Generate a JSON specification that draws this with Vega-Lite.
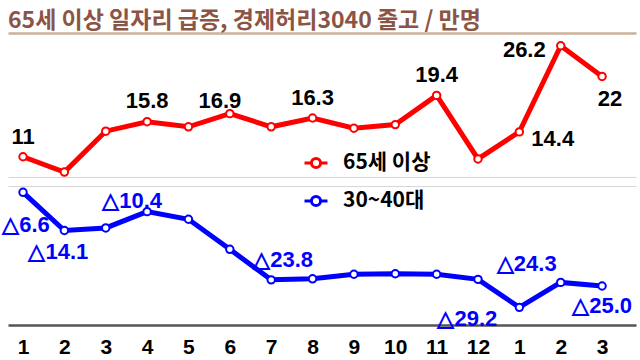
{
  "$schema": "https://vega.github.io/schema/vega-lite/v6.json",
  "width": 628,
  "height": 285,
  "autosize": {"type": "none"},
  "padding": {"left": 8, "top": 40, "right": 4, "bottom": 35},
  "title": {
    "text": "65세 이상 일자리 급증, 경제허리3040 줄고 / 만명",
    "anchor": "start",
    "frame": "group",
    "font": "Noto Sans CJK KR",
    "fontSize": 23,
    "fontWeight": "bold",
    "color": "#8B5444",
    "offset": 0
  },
  "datasets": {
    "d": [
      {"i": 1, "series": "65세 이상", "value": 11},
      {"i": 2, "series": "65세 이상", "value": 8.9},
      {"i": 3, "series": "65세 이상", "value": 14.5},
      {"i": 4, "series": "65세 이상", "value": 15.8},
      {"i": 5, "series": "65세 이상", "value": 15.1},
      {"i": 6, "series": "65세 이상", "value": 16.9},
      {"i": 7, "series": "65세 이상", "value": 15.1},
      {"i": 8, "series": "65세 이상", "value": 16.3},
      {"i": 9, "series": "65세 이상", "value": 14.9},
      {"i": 10, "series": "65세 이상", "value": 15.4},
      {"i": 11, "series": "65세 이상", "value": 19.4},
      {"i": 12, "series": "65세 이상", "value": 10.7},
      {"i": 13, "series": "65세 이상", "value": 14.4},
      {"i": 14, "series": "65세 이상", "value": 26.2},
      {"i": 15, "series": "65세 이상", "value": 22},
      {"i": 1, "series": "30~40대", "value": -6.6},
      {"i": 2, "series": "30~40대", "value": -14.1},
      {"i": 3, "series": "30~40대", "value": -13.6},
      {"i": 4, "series": "30~40대", "value": -10.4},
      {"i": 5, "series": "30~40대", "value": -11.9},
      {"i": 6, "series": "30~40대", "value": -17.8},
      {"i": 7, "series": "30~40대", "value": -23.8},
      {"i": 8, "series": "30~40대", "value": -23.6},
      {"i": 9, "series": "30~40대", "value": -22.7},
      {"i": 10, "series": "30~40대", "value": -22.6},
      {"i": 11, "series": "30~40대", "value": -22.7},
      {"i": 12, "series": "30~40대", "value": -23.7},
      {"i": 13, "series": "30~40대", "value": -29.2},
      {"i": 14, "series": "30~40대", "value": -24.3},
      {"i": 15, "series": "30~40대", "value": -25.0}
    ]
  },
  "data": {"name": "d"},
  "resolve": {"scale": {"y": "independent"}, "axis": {"x": "independent", "y": "independent"}},
  "layer": [
    {
      "transform": [{"filter": "datum.series == '65세 이상'"}],
      "encoding": {
        "x": {
          "field": "i", "type": "quantitative",
          "scale": {"domain": [0.637, 15.82], "nice": false, "zero": false},
          "axis": {
            "values": [1,2,3,4,5,6,7,8,9,10,11,12,13,14,15],
            "labelExpr": "datum.value > 12 ? datum.value - 12 : datum.value",
            "title": null, "grid": false, "ticks": false,
            "domainColor": "#555555", "domainWidth": 2.5,
            "labelFont": "Liberation Sans", "labelFontWeight": "bold", "labelFontSize": 21,
            "labelColor": "#000000", "labelPadding": 11
          }
        },
        "y": {
          "field": "value", "type": "quantitative",
          "scale": {"domain": [-12.05, 26.99], "nice": false, "zero": false},
          "axis": {"values": [8.18], "grid": true, "gridColor": "#d6d6d6", "gridWidth": 1, "labels": false, "ticks": false, "domain": false, "title": null}
        }
      },
      "layer": [
        {
          "mark": {"type": "line", "strokeWidth": 5, "point": {"filled": false, "fill": "white", "strokeWidth": 2, "size": 55}},
          "encoding": {
            "color": {
              "field": "series", "type": "nominal",
              "scale": {"domain": ["65세 이상", "30~40대"], "range": ["#ff0000", "#0000ff"]},
              "legend": {
                "orient": "none", "legendX": 295, "legendY": 110, "title": null,
                "labelFont": "Noto Sans CJK KR", "labelFontSize": 21, "labelFontWeight": "bold",
                "labelColor": "#000000", "rowPadding": 14, "labelOffset": 14,
                "symbolType": "M-1,0L-0.4,0M0.4,0L1,0M0.4,0A0.4,0.4,0,1,1,-0.4,0A0.4,0.4,0,1,1,0.4,0Z",
                "symbolSize": 529, "symbolStrokeWidth": 3
              }
            }
          }
        },
        {"transform": [{"filter": "datum.i == 1"}], "mark": {"type": "text", "dy": -13, "color": "#000"}, "encoding": {"text": {"field": "value", "type": "quantitative"}}},
        {"transform": [{"filter": "datum.i == 4"}], "mark": {"type": "text", "dy": -14, "color": "#000"}, "encoding": {"text": {"field": "value", "type": "quantitative"}}},
        {"transform": [{"filter": "datum.i == 6"}], "mark": {"type": "text", "dx": -10, "dy": -6, "color": "#000"}, "encoding": {"text": {"field": "value", "type": "quantitative"}}},
        {"transform": [{"filter": "datum.i == 8"}], "mark": {"type": "text", "dy": -13, "color": "#000"}, "encoding": {"text": {"field": "value", "type": "quantitative"}}},
        {"transform": [{"filter": "datum.i == 11"}], "mark": {"type": "text", "dy": -13, "color": "#000"}, "encoding": {"text": {"field": "value", "type": "quantitative"}}},
        {"transform": [{"filter": "datum.i == 13"}], "mark": {"type": "text", "align": "left", "dx": 12, "dy": 14, "color": "#000"}, "encoding": {"text": {"field": "value", "type": "quantitative"}}},
        {"transform": [{"filter": "datum.i == 14"}], "mark": {"type": "text", "align": "right", "dx": -15, "dy": 11, "color": "#000"}, "encoding": {"text": {"field": "value", "type": "quantitative"}}},
        {"transform": [{"filter": "datum.i == 15"}], "mark": {"type": "text", "dx": 8, "dy": 30, "color": "#000"}, "encoding": {"text": {"field": "value", "type": "quantitative"}}}
      ]
    },
    {
      "transform": [
        {"filter": "datum.series == '30~40대'"},
        {"calculate": "'△' + format(-datum.value, '.1f')", "as": "lab"}
      ],
      "encoding": {
        "x": {
          "field": "i", "type": "quantitative",
          "scale": {"domain": [0.637, 15.82], "nice": false, "zero": false},
          "axis": {"orient": "top", "offset": 7, "labels": false, "ticks": false, "grid": false, "title": null, "domainColor": "#CBB198", "domainWidth": 2.5}
        },
        "y": {
          "field": "value", "type": "quantitative",
          "scale": {"domain": [-32.67, 23.32], "nice": false, "zero": false},
          "axis": {"values": [-5.42], "grid": true, "gridColor": "#d6d6d6", "gridWidth": 1, "labels": false, "ticks": false, "domain": false, "title": null}
        }
      },
      "layer": [
        {
          "mark": {"type": "line", "strokeWidth": 5, "point": {"filled": false, "fill": "white", "strokeWidth": 2, "size": 55}},
          "encoding": {"color": {"field": "series", "type": "nominal"}}
        },
        {"transform": [{"filter": "datum.i == 1"}], "mark": {"type": "text", "dx": 3, "dy": 40, "color": "#0000ff"}, "encoding": {"text": {"field": "lab"}}},
        {"transform": [{"filter": "datum.i == 2"}], "mark": {"type": "text", "dx": -6, "dy": 29, "color": "#0000ff"}, "encoding": {"text": {"field": "lab"}}},
        {"transform": [{"filter": "datum.i == 4"}], "mark": {"type": "text", "dx": -15, "dy": -4, "color": "#0000ff"}, "encoding": {"text": {"field": "lab"}}},
        {"transform": [{"filter": "datum.i == 7"}], "mark": {"type": "text", "dx": 12, "dy": -13, "color": "#0000ff"}, "encoding": {"text": {"field": "lab"}}},
        {"transform": [{"filter": "datum.i == 13"}], "mark": {"type": "text", "dx": -52, "dy": 19, "color": "#0000ff"}, "encoding": {"text": {"field": "lab"}}},
        {"transform": [{"filter": "datum.i == 14"}], "mark": {"type": "text", "dx": -34, "dy": -11, "color": "#0000ff"}, "encoding": {"text": {"field": "lab"}}},
        {"transform": [{"filter": "datum.i == 15"}], "mark": {"type": "text", "dx": 0, "dy": 27, "color": "#0000ff"}, "encoding": {"text": {"field": "lab"}}}
      ]
    }
  ],
  "config": {
    "view": {"stroke": null},
    "text": {"font": "Liberation Sans", "fontWeight": "bold", "fontSize": 22, "baseline": "alphabetic"}
  }
}
